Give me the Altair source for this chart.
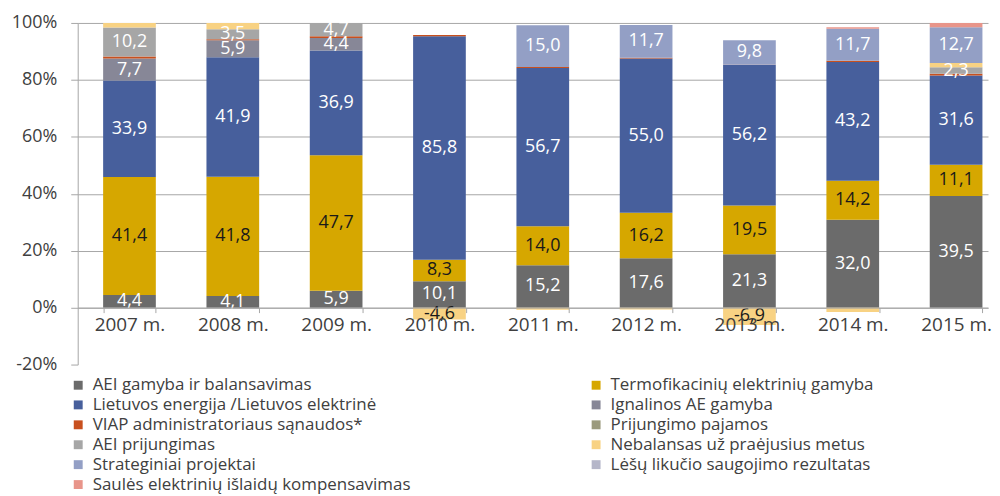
import altair as alt
import pandas as pd

years = ["2007 m.", "2008 m.", "2009 m.", "2010 m.", "2011 m.", "2012 m.", "2013 m.", "2014 m.", "2015 m."]

series_names = [
    "AEI gamyba ir balansavimas",
    "Termofikacinių elektrinių gamyba",
    "Lietuvos energija /Lietuvos elektrinė",
    "Ignalinos AE gamyba",
    "VIAP administratoriaus sąnaudos*",
    "Prijungimo pajamos",
    "AEI prijungimas",
    "Nebalansas už praėjusius metus",
    "Strateginiai projektai",
    "Lėšų likučio saugojimo rezultatas",
    "Saulės elektrinių išlaidų kompensavimas",
]

colors = ["#6b6b6b", "#d6a700", "#475f9c", "#878797", "#c8501e", "#9b9a7d",
          "#a6a6a6", "#f8d283", "#939fc5", "#b5b6c9", "#e8958a"]

aei_gamyba = [4.4, 4.1, 5.9, 10.1, 15.2, 17.6, 21.3, 32.0, 39.5]
termofikacines = [41.4, 41.8, 47.7, 8.3, 14.0, 16.2, 19.5, 14.2, 11.1]
lietuvos_energija = [33.9, 41.9, 36.9, 85.8, 56.7, 55.0, 56.2, 43.2, 31.6]
ignalina = [7.7, 5.9, 4.4, 0, 0, 0, 0, 0, 0]
viap = [0.7, 0.4, 0.6, 0.5, 0.3, 0.3, 0.1, 0.4, 0.6]
prijungimo_pajamos = [0, 0, 0, 0, 0, 0, 0, 0, 0]
aei_prijungimas = [10.2, 3.5, 4.7, 0, 0, 0, 0, 0, 2.3]
nebalansas = [1.6, 2.2, 0, -4.6, -0.8, -0.7, -6.9, -1.6, 1.5]
strateginiai = [0, 0, 0, 0, 15.0, 11.7, 9.8, 11.7, 12.7]
lesu_likucio = [0, 0, 0, 0, 0, 0, 0, 0, 0]
saules = [0, 0, 0, 0, 0, 0, 0, 0.5, 1.5]

all_series = [aei_gamyba, termofikacines, lietuvos_energija, ignalina, viap,
              prijungimo_pajamos, aei_prijungimas, nebalansas, strateginiai,
              lesu_likucio, saules]

rows = []
for si, (name, vals) in enumerate(zip(series_names, all_series)):
    for yi, v in enumerate(vals):
        rows.append({"year": years[yi], "series": name, "value": v, "order": si})
df = pd.DataFrame(rows)

FONT = "Open Sans"
TXT = "#404040"
GRID = "#a6a6a6"

base = alt.Chart(df).transform_calculate(
    absval="abs(datum.value)"
).transform_joinaggregate(
    total="sum(absval)", groupby=["year"]
).transform_calculate(
    pct="100 * datum.value / datum.total"
).transform_stack(
    stack="pct", groupby=["year"], as_=["y0", "y1"],
    sort=[alt.SortField("order", order="ascending")]
).transform_calculate(
    ymid="(datum.y0 + datum.y1) / 2",
    lab="(datum.value < 0 ? '-' : '') + replace(format(abs(datum.value), '.1f'), '.', ',')"
)

xenc = alt.X(
    "year:N", sort=years, title=None,
    scale=alt.Scale(paddingInner=0.49, paddingOuter=0.15, align=0.82),
    axis=alt.Axis(
        offset=-57.17, tickBand="extent", tickSize=5, tickColor=GRID,
        domainColor=GRID, labelFont=FONT, labelFontSize=19, labelColor=TXT,
        labelPadding=3, labelAngle=0, zindex=1
    ),
)

bars = base.mark_bar().encode(
    x=xenc,
    y=alt.Y(
        "y0:Q", title=None,
        scale=alt.Scale(domain=[-20, 100], nice=False),
        axis=alt.Axis(
            values=[-20, 0, 20, 40, 60, 80, 100],
            labelExpr="datum.value + '%'",
            labelFont=FONT, labelFontSize=18, labelColor=TXT,
            tickSize=7, tickColor=GRID, domainColor=GRID,
            gridColor=GRID,
            gridOpacity=alt.condition("datum.value < 0", alt.value(0), alt.value(1)),
            labelPadding=14,
        ),
    ),
    y2="y1:Q",
    color=alt.Color(
        "series:N",
        scale=alt.Scale(domain=series_names, range=colors),
        legend=alt.Legend(
            title=None, orient="none", legendX=-8, legendY=355,
            direction="horizontal", columns=2, columnPadding=177, rowPadding=2,
            symbolType="square", symbolSize=80, symbolStrokeWidth=0,
            labelFont=FONT, labelFontSize=17, labelColor=TXT,
            labelOffset=6, labelLimit=500,
        ),
    ),
    order=alt.Order("order:Q"),
)

labels = base.transform_filter(
    "abs(datum.value) >= 2 && !(datum.order == 7 && datum.value > 0)"
).mark_text(font=FONT, fontSize=18, baseline="middle", align="center").encode(
    x=alt.X("year:N", sort=years),
    y=alt.Y("ymid:Q"),
    text="lab:N",
    color=alt.condition(
        "datum.order == 1 || datum.order == 7",
        alt.value("#1a1a1a"), alt.value("#ffffff")
    ),
)

chart = alt.layer(bars, labels).properties(
    width=914, height=343,
    autosize=alt.AutoSizeParams(type="none"),
    padding={"left": 70, "top": 14, "right": 4, "bottom": 140},
).configure_view(stroke=None)

chart.save("out.html", embed_options={"renderer": "svg", "actions": False})
